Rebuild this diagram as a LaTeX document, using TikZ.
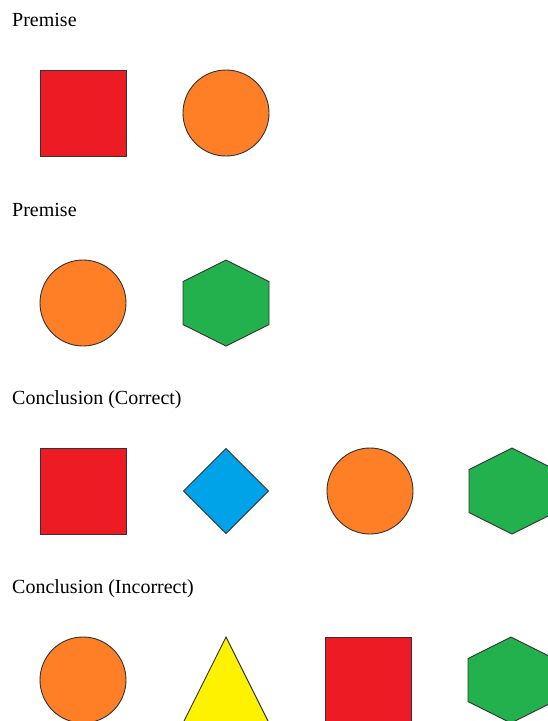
\documentclass[tikz,border=0pt]{standalone}
\usepackage{fontspec}
\setmainfont{Liberation Serif}
\definecolor{shred}{HTML}{ED1C24}
\definecolor{shorange}{HTML}{FF7F27}
\definecolor{shgreen}{HTML}{22B14C}
\definecolor{shblue}{HTML}{00A2E8}
\definecolor{shyellow}{HTML}{FFF200}
\definecolor{shedge}{HTML}{333333}
\begin{document}
\begin{tikzpicture}[x=1pt,y=-1pt,
  lbl/.style={anchor=base west,inner sep=0pt,font=\fontsize{20}{24}\selectfont},
  shp/.style={draw=shedge,line width=0.9pt,line join=miter},
  sq/.pic={\path[shp,fill=shred] (-43,-43) rectangle (43,43);},
  ci/.pic={\path[shp,fill=shorange] (0,0) circle[radius=43];},
  hx/.pic={\path[shp,fill=shgreen] (0,-43) -- (43,-21.5) -- (43,21.5) -- (0,43) -- (-43,21.5) -- (-43,-21.5) -- cycle;},
  di/.pic={\path[shp,fill=shblue] (0,-42.5) -- (42.5,0) -- (0,42.5) -- (-42.5,0) -- cycle;},
  tr/.pic={\path[shp,fill=shyellow] (0,-43) -- (43,43) -- (-43,43) -- cycle;}
]
\useasboundingbox (0,0) rectangle (548,721);
\clip (0,0) rectangle (548,721);
\fill[white] (0,0) rectangle (548,721);

\node[lbl] (l1) at (12,26) {Premise};
\pic at (83,113) {sq};
\pic at (226,113) {ci};

\node[lbl] (l2) at (12,216) {Premise};
\pic at (83,303) {ci};
\pic at (226,303) {hx};

\node[lbl] (l3) at (12,404) {Conclusion (Correct)};
\pic at (83,491) {sq};
\pic at (226,491) {di};
\pic at (370,491) {ci};
\pic at (512,491) {hx};

\node[lbl] (l4) at (12,593) {Conclusion (Incorrect)};
\pic at (83,680) {ci};
\pic at (226,680) {tr};
\pic at (368,680) {sq};
\pic at (511,680) {hx};
\end{tikzpicture}
\end{document}
